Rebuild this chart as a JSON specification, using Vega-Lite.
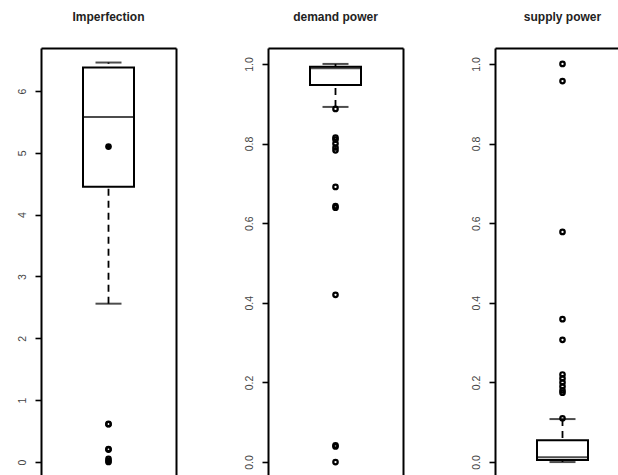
{
  "$schema": "https://vega.github.io/schema/vega-lite/v6.json",
  "padding": {"left": 17, "top": 11, "right": 0, "bottom": 0},
  "background": "white",
  "bounds": "flush",
  "spacing": 92,
  "config": {
    "view": {"stroke": null},
    "font": "Liberation Sans",
    "axis": {"grid": false, "domainColor": "black", "domainWidth": 2, "tickColor": "black", "tickWidth": 1.6, "tickSize": 6, "labelFont": "Liberation Sans", "labelFontSize": 10.5, "labelColor": "#444", "labelPadding": 8, "labelAngle": -90, "labelAlign": "center", "labelBaseline": "bottom", "title": null},
    "title": {"font": "Liberation Sans", "fontSize": 12, "fontWeight": "bold", "color": "#222", "offset": 24, "anchor": "middle"}
  },
  "datasets": {
    "stats": [
      {"var": "imperfection", "lo": 2.56, "q1": 4.45, "med": 5.58, "q3": 6.38, "hi": 6.46, "mean": 5.1},
      {"var": "demand power", "lo": 0.892, "q1": 0.947, "med": 0.989, "q3": 0.993, "hi": 1.0, "mean": null},
      {"var": "supply power", "lo": 0.0, "q1": 0.005, "med": 0.012, "q3": 0.055, "hi": 0.108, "mean": null}
    ],
    "outliers": [
      {"var": "imperfection", "value": 0.615},
      {"var": "imperfection", "value": 0.61},
      {"var": "imperfection", "value": 0.21},
      {"var": "imperfection", "value": 0.2},
      {"var": "imperfection", "value": 0.05},
      {"var": "imperfection", "value": 0.02},
      {"var": "imperfection", "value": 0.0},
      {"var": "demand power", "value": 0.887},
      {"var": "demand power", "value": 0.815},
      {"var": "demand power", "value": 0.81},
      {"var": "demand power", "value": 0.8},
      {"var": "demand power", "value": 0.79},
      {"var": "demand power", "value": 0.783},
      {"var": "demand power", "value": 0.691},
      {"var": "demand power", "value": 0.643},
      {"var": "demand power", "value": 0.639},
      {"var": "demand power", "value": 0.42},
      {"var": "demand power", "value": 0.042},
      {"var": "demand power", "value": 0.039},
      {"var": "demand power", "value": 0.0},
      {"var": "supply power", "value": 1.0},
      {"var": "supply power", "value": 0.957},
      {"var": "supply power", "value": 0.578},
      {"var": "supply power", "value": 0.359},
      {"var": "supply power", "value": 0.307},
      {"var": "supply power", "value": 0.22},
      {"var": "supply power", "value": 0.21},
      {"var": "supply power", "value": 0.2},
      {"var": "supply power", "value": 0.19},
      {"var": "supply power", "value": 0.18},
      {"var": "supply power", "value": 0.174},
      {"var": "supply power", "value": 0.11}
    ]
  },
  "hconcat": [
    {
      "title": "Imperfection",
      "width": 135,
      "height": 428,
      "encoding": {
        "x": {"field": "var", "type": "nominal", "scale": {"type": "band", "paddingInner": 0, "paddingOuter": 0}, "axis": {"orient": "top", "labels": false, "ticks": false, "domain": true, "title": null}}
      },
      "resolve": {"axis": {"y": "independent"}},
      "layer": [
        {
          "data": {"name": "stats"},
          "transform": [{"filter": "datum.var === 'imperfection'"}],
          "mark": {"type": "rule", "strokeDash": [7, 5], "strokeWidth": 1.8, "color": "black"},
          "encoding": {"y": {"field": "lo", "type": "quantitative", "scale": {"domain": [-0.227, 6.695], "nice": false, "zero": false}, "axis": {"values": [0, 1, 2, 3, 4, 5, 6], "format": "d"}}, "y2": {"field": "hi"}}
        },
        {
          "data": {"name": "stats"},
          "transform": [{"filter": "datum.var === 'imperfection'"}],
          "mark": {"type": "bar", "width": 51, "fill": "white", "stroke": "black", "strokeWidth": 2},
          "encoding": {"y": {"field": "q1", "type": "quantitative", "axis": null}, "y2": {"field": "q3"}}
        },
        {
          "data": {"name": "stats"},
          "transform": [{"filter": "datum.var === 'imperfection'"}],
          "mark": {"type": "tick", "size": 51, "thickness": 2, "color": "black"},
          "encoding": {"y": {"field": "med", "type": "quantitative", "axis": null}}
        },
        {
          "data": {"name": "stats"},
          "transform": [{"filter": "datum.var === 'imperfection'"}],
          "mark": {"type": "tick", "size": 26, "thickness": 2, "color": "black"},
          "encoding": {"y": {"field": "hi", "type": "quantitative", "axis": null}}
        },
        {
          "data": {"name": "stats"},
          "transform": [{"filter": "datum.var === 'imperfection'"}],
          "mark": {"type": "tick", "size": 26, "thickness": 2, "color": "black"},
          "encoding": {"y": {"field": "lo", "type": "quantitative", "axis": null}}
        },
        {
          "data": {"name": "stats"},
          "transform": [{"filter": "datum.var === 'imperfection'"}],
          "mark": {"type": "point", "shape": "circle", "filled": true, "size": 45, "color": "black", "opacity": 1},
          "encoding": {"y": {"field": "mean", "type": "quantitative", "axis": null}}
        },
        {
          "data": {"name": "outliers"},
          "transform": [{"filter": "datum.var === 'imperfection'"}],
          "mark": {"type": "point", "shape": "circle", "filled": false, "size": 20, "strokeWidth": 2.2, "color": "black", "opacity": 1},
          "encoding": {"y": {"field": "value", "type": "quantitative", "scale": {"domain": [-0.227, 6.695], "nice": false, "zero": false}, "axis": {"orient": "right", "labels": false, "ticks": false, "domain": true}}}
        }
      ]
    },
    {
      "title": "demand power",
      "width": 135,
      "height": 428,
      "encoding": {
        "x": {"field": "var", "type": "nominal", "scale": {"type": "band", "paddingInner": 0, "paddingOuter": 0}, "axis": {"orient": "top", "labels": false, "ticks": false, "domain": true, "title": null}}
      },
      "resolve": {"axis": {"y": "independent"}},
      "layer": [
        {
          "data": {"name": "stats"},
          "transform": [{"filter": "datum.var === 'demand power'"}],
          "mark": {"type": "rule", "strokeDash": [7, 5], "strokeWidth": 1.8, "color": "black"},
          "encoding": {"y": {"field": "lo", "type": "quantitative", "scale": {"domain": [-0.035, 1.04], "nice": false, "zero": false}, "axis": {"values": [0, 0.2, 0.4, 0.6, 0.8, 1.0], "format": ".1f"}}, "y2": {"field": "hi"}}
        },
        {
          "data": {"name": "stats"},
          "transform": [{"filter": "datum.var === 'demand power'"}],
          "mark": {"type": "bar", "width": 51, "fill": "white", "stroke": "black", "strokeWidth": 2},
          "encoding": {"y": {"field": "q1", "type": "quantitative", "axis": null}, "y2": {"field": "q3"}}
        },
        {
          "data": {"name": "stats"},
          "transform": [{"filter": "datum.var === 'demand power'"}],
          "mark": {"type": "tick", "size": 51, "thickness": 2, "color": "black"},
          "encoding": {"y": {"field": "med", "type": "quantitative", "axis": null}}
        },
        {
          "data": {"name": "stats"},
          "transform": [{"filter": "datum.var === 'demand power'"}],
          "mark": {"type": "tick", "size": 26, "thickness": 2, "color": "black"},
          "encoding": {"y": {"field": "hi", "type": "quantitative", "axis": null}}
        },
        {
          "data": {"name": "stats"},
          "transform": [{"filter": "datum.var === 'demand power'"}],
          "mark": {"type": "tick", "size": 26, "thickness": 2, "color": "black"},
          "encoding": {"y": {"field": "lo", "type": "quantitative", "axis": null}}
        },
        {
          "data": {"name": "outliers"},
          "transform": [{"filter": "datum.var === 'demand power'"}],
          "mark": {"type": "point", "shape": "circle", "filled": false, "size": 20, "strokeWidth": 2.2, "color": "black", "opacity": 1},
          "encoding": {"y": {"field": "value", "type": "quantitative", "scale": {"domain": [-0.035, 1.04], "nice": false, "zero": false}, "axis": {"orient": "right", "labels": false, "ticks": false, "domain": true}}}
        }
      ]
    },
    {
      "title": "supply power",
      "width": 135,
      "height": 428,
      "encoding": {
        "x": {"field": "var", "type": "nominal", "scale": {"type": "band", "paddingInner": 0, "paddingOuter": 0}, "axis": {"orient": "top", "labels": false, "ticks": false, "domain": true, "title": null}}
      },
      "resolve": {"axis": {"y": "independent"}},
      "layer": [
        {
          "data": {"name": "stats"},
          "transform": [{"filter": "datum.var === 'supply power'"}],
          "mark": {"type": "rule", "strokeDash": [7, 5], "strokeWidth": 1.8, "color": "black"},
          "encoding": {"y": {"field": "lo", "type": "quantitative", "scale": {"domain": [-0.035, 1.04], "nice": false, "zero": false}, "axis": {"values": [0, 0.2, 0.4, 0.6, 0.8, 1.0], "format": ".1f"}}, "y2": {"field": "hi"}}
        },
        {
          "data": {"name": "stats"},
          "transform": [{"filter": "datum.var === 'supply power'"}],
          "mark": {"type": "bar", "width": 51, "fill": "white", "stroke": "black", "strokeWidth": 2},
          "encoding": {"y": {"field": "q1", "type": "quantitative", "axis": null}, "y2": {"field": "q3"}}
        },
        {
          "data": {"name": "stats"},
          "transform": [{"filter": "datum.var === 'supply power'"}],
          "mark": {"type": "tick", "size": 51, "thickness": 2, "color": "black"},
          "encoding": {"y": {"field": "med", "type": "quantitative", "axis": null}}
        },
        {
          "data": {"name": "stats"},
          "transform": [{"filter": "datum.var === 'supply power'"}],
          "mark": {"type": "tick", "size": 26, "thickness": 2, "color": "black"},
          "encoding": {"y": {"field": "hi", "type": "quantitative", "axis": null}}
        },
        {
          "data": {"name": "stats"},
          "transform": [{"filter": "datum.var === 'supply power'"}],
          "mark": {"type": "tick", "size": 26, "thickness": 2, "color": "black"},
          "encoding": {"y": {"field": "lo", "type": "quantitative", "axis": null}}
        },
        {
          "data": {"name": "outliers"},
          "transform": [{"filter": "datum.var === 'supply power'"}],
          "mark": {"type": "point", "shape": "circle", "filled": false, "size": 20, "strokeWidth": 2.2, "color": "black", "opacity": 1},
          "encoding": {"y": {"field": "value", "type": "quantitative", "scale": {"domain": [-0.035, 1.04], "nice": false, "zero": false}, "axis": {"orient": "right", "labels": false, "ticks": false, "domain": true}}}
        }
      ]
    }
  ]
}
